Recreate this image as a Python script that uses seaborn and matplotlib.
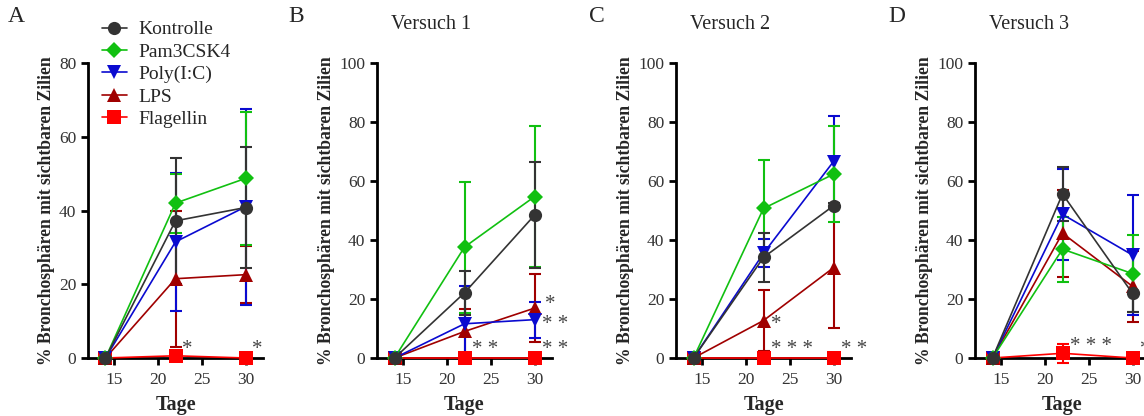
import numpy as np
import pandas as pd
import matplotlib
matplotlib.use('Agg')
import matplotlib.pyplot as plt
import seaborn as sns

# Data: mean and SD per group, days 14/22/30
days = [14, 22, 30]
groups = ['Kontrolle', 'Pam3CSK4', 'Poly(I:C)', 'LPS', 'Flagellin']
colors = {'Kontrolle': '#333333', 'Pam3CSK4': '#11c011', 'Poly(I:C)': '#0a0ad0',
          'LPS': '#a00000', 'Flagellin': '#ff0000'}
markers = {'Kontrolle': 'o', 'Pam3CSK4': 'D', 'Poly(I:C)': 'v', 'LPS': '^', 'Flagellin': 's'}

# Panel A (all experiments)
mean_A = {'Kontrolle': [0, 37.2, 40.8], 'Pam3CSK4': [0, 42.0, 48.7], 'Poly(I:C)': [0, 31.5, 41.0],
          'LPS': [0, 21.5, 22.6], 'Flagellin': [0, 0.6, 0]}
sd_A = {'Kontrolle': [0, 17.0, 16.4], 'Pam3CSK4': [0, 8.0, 18.0], 'Poly(I:C)': [0, 18.8, 26.6],
        'LPS': [0, 18.4, 7.8], 'Flagellin': [0, 0, 0]}
# Panel B (Versuch 1)
mean_B = {'Kontrolle': [0, 22.1, 48.4], 'Pam3CSK4': [0, 37.6, 54.7], 'Poly(I:C)': [0, 11.6, 13.0],
          'LPS': [0, 9.0, 16.9], 'Flagellin': [0, 0, 0]}
sd_B = {'Kontrolle': [0, 7.5, 18.0], 'Pam3CSK4': [0, 22.2, 23.9], 'Poly(I:C)': [0, 12.7, 6.1],
        'LPS': [0, 7.7, 11.6], 'Flagellin': [0, 0, 0]}
# Panel C (Versuch 2)
mean_C = {'Kontrolle': [0, 34.1, 51.6], 'Pam3CSK4': [0, 50.7, 62.3], 'Poly(I:C)': [0, 35.5, 66.6],
          'LPS': [0, 12.7, 30.6], 'Flagellin': [0, 0, 0]}
sd_C = {'Kontrolle': [0, 8.3, 0.8], 'Pam3CSK4': [0, 16.3, 16.2], 'Poly(I:C)': [0, 4.8, 15.4],
        'LPS': [0, 10.3, 20.4], 'Flagellin': [0, 0, 0]}
# Panel D (Versuch 3)
mean_D = {'Kontrolle': [0, 55.6, 21.9], 'Pam3CSK4': [0, 36.9, 28.6], 'Poly(I:C)': [0, 48.7, 34.9],
          'LPS': [0, 42.3, 24.3], 'Flagellin': [0, 1.6, 0]}
sd_D = {'Kontrolle': [0, 9.0, 6.2], 'Pam3CSK4': [0, 11.0, 13.0], 'Poly(I:C)': [0, 15.5, 20.3],
        'LPS': [0, 14.7, 12.0], 'Flagellin': [0, 3.3, 0]}

# significance stars (x, y, text)
stars_A = [(22.7, 2.3, '*'), (30.7, 2.3, '*')]
stars_B = [(31.2, 18.0, '*'), (30.9, 11.3, '* *'), (22.9, 2.8, '* *'), (30.9, 2.8, '* *')]
stars_C = [(22.9, 11.5, '*'), (22.9, 2.8, '* * *'), (30.9, 2.8, '* *')]
stars_D = [(22.9, 3.8, '* * *'), (30.9, 2.8, '*')]

panels = [('A', '', mean_A, sd_A, 80, stars_A),
          ('B', 'Versuch 1', mean_B, sd_B, 100, stars_B),
          ('C', 'Versuch 2', mean_C, sd_C, 100, stars_C),
          ('D', 'Versuch 3', mean_D, sd_D, 100, stars_D)]

sns.set_style('ticks')
plt.rcParams['font.family'] = ['Liberation Serif', 'DejaVu Serif']

fig = plt.figure(figsize=(11.44, 4.16), dpi=100)
lefts = [88, 377, 676, 975]
letter_x = [16, 296, 597, 897]

for i, (letter, title, means, sds, ymax, stars) in enumerate(panels):
    ax = fig.add_axes([lefts[i] / 1144, 1 - 358 / 416, 175 / 1144, 295 / 416])
    # draw in reverse so Kontrolle sits on top
    for g in groups[::-1]:
        df = pd.DataFrame({'Tage': days, 'Wert': means[g]})
        ax.errorbar(days, means[g], yerr=sds[g], fmt='none', ecolor=colors[g],
                    elinewidth=1.5, capsize=4.5, capthick=1.5, clip_on=False, zorder=3)
        sns.lineplot(data=df, x='Tage', y='Wert', ax=ax, color=colors[g], marker=markers[g],
                     markersize=9.5 if g != 'Pam3CSK4' else 8.5, markeredgewidth=0, linewidth=1.2,
                     label=g, clip_on=False, zorder=4)
    for (sx, sy, st) in stars:
        ax.text(sx, sy, st, ha='left', va='center', fontsize=15, color='#444444')
    ax.set_xlim(12, 32)
    ax.set_ylim(0, ymax)
    ax.set_xticks([15, 20, 25, 30])
    ax.set_yticks(np.arange(0, ymax + 1, 20))
    ax.tick_params(axis='both', labelsize=12.5, labelcolor='#333333', width=2, length=5,
                   direction='out', color='black')
    ax.tick_params(axis='x', pad=5)
    for s in ['left', 'bottom']:
        ax.spines[s].set_linewidth(2)
        ax.spines[s].set_color('black')
    sns.despine(ax=ax)
    ax.set_xlabel('Tage', fontsize=14.5, fontweight='bold', labelpad=5)
    ax.set_ylabel('% Bronchosphären mit sichtbaren Zilien', fontsize=12.7, fontweight='bold', labelpad=3)
    handles, labels = ax.get_legend_handles_labels()
    ax.get_legend().remove()
    if title:
        ax.text(0.31, 1.13, title, transform=ax.transAxes, ha='center', va='center', fontsize=14.5)
    fig.text(letter_x[i] / 1144, 1 - 16 / 416, letter, ha='center', va='center', fontsize=17)
    if i == 0:
        leg_handles = handles[::-1]
        leg_labels = labels[::-1]

fig.legend(leg_handles, leg_labels, loc='upper left', bbox_to_anchor=(92 / 1144, 1 - 11 / 416),
           frameon=False, fontsize=14, handlelength=1.3, labelspacing=0.25, borderpad=0,
           handletextpad=0.6)

fig.savefig('out.png', dpi=100)
